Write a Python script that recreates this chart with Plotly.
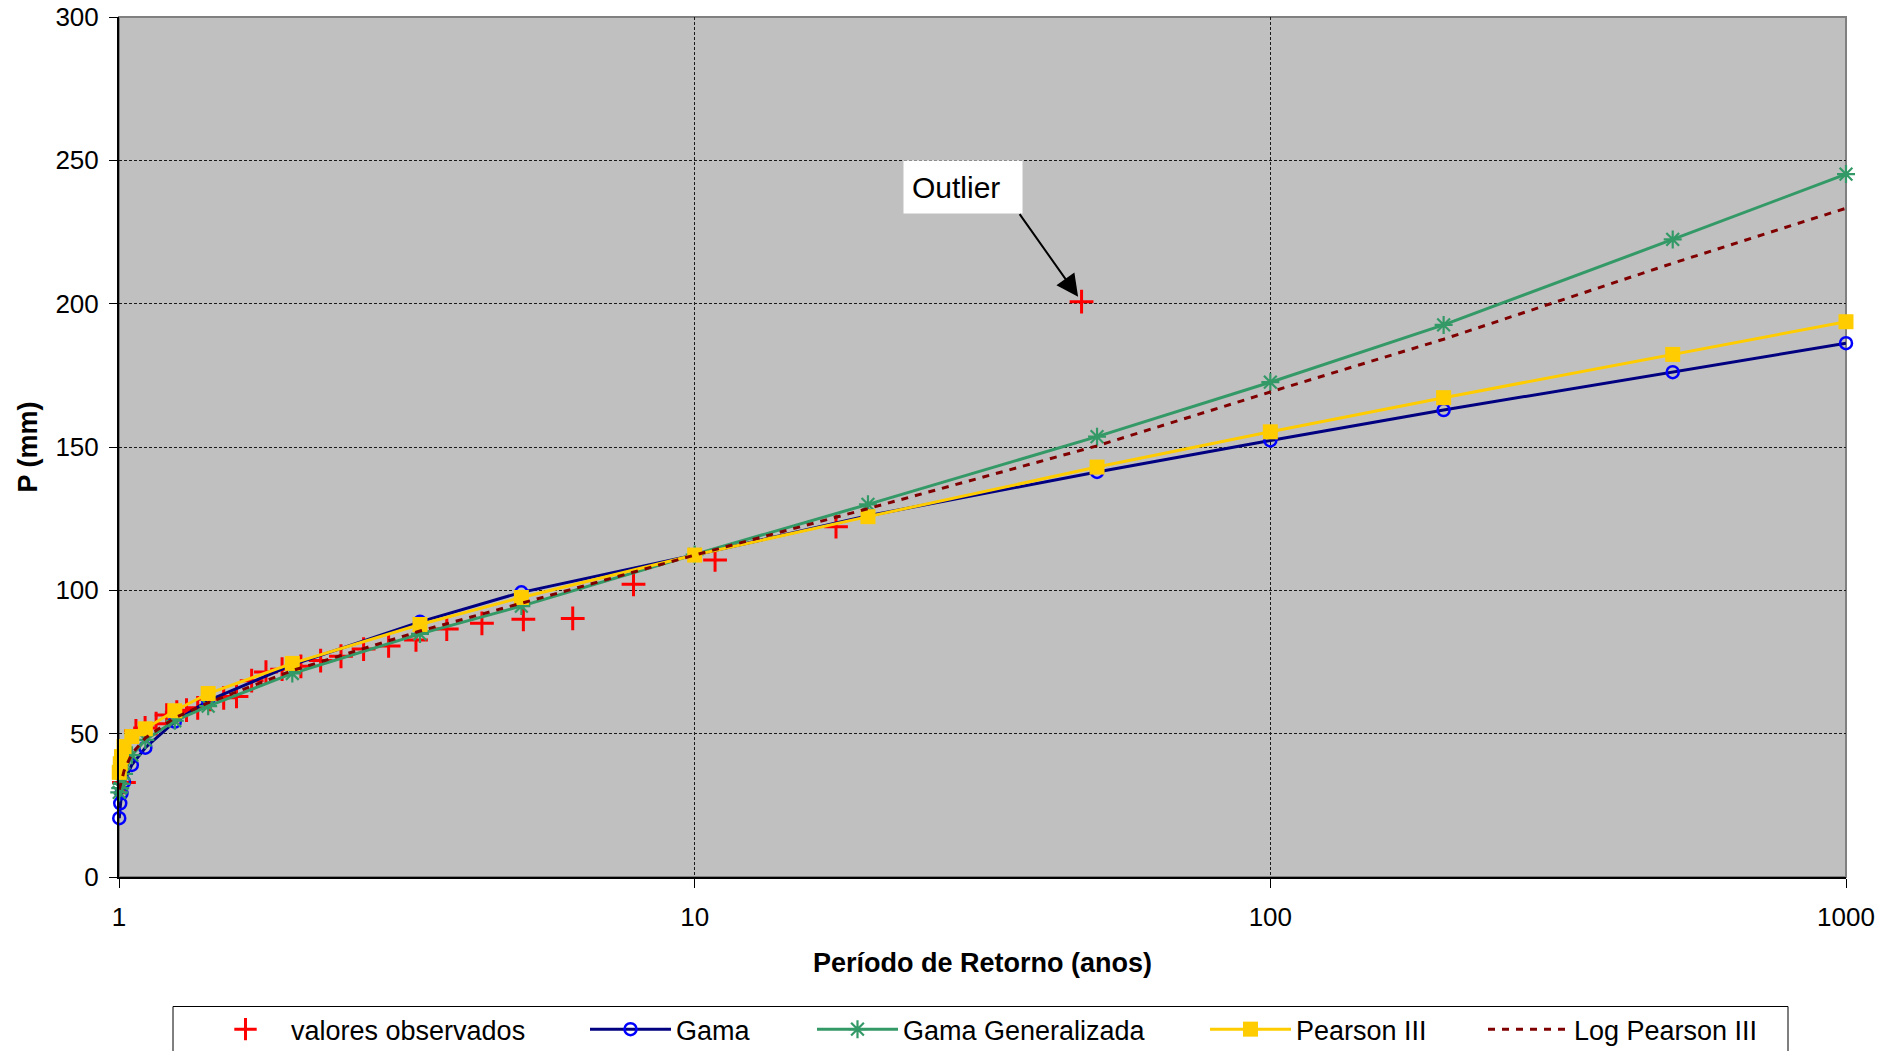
import numpy as np
import plotly.graph_objects as go

# Return periods (years) at which the fitted distributions are evaluated
T_fit = [1.001, 1.005, 1.0101, 1.0204, 1.0526, 1.1111, 1.25, 1.4286, 2, 3.3333,
         5, 10, 20, 50, 100, 200, 500, 1000]

# Fitted precipitation quantiles (mm)
P_gama = [20.5, 25.7, 29.2, 33.2, 39.1, 45.1, 54.2, 61.5, 74.0, 89.0,
          99.3, 112.3, 126.0, 141.3, 152.3, 162.9, 176.1, 186.2]
P_gama_gen = [29.5, 31.0, 32.5, 36.0, 42.5, 47.8, 54.5, 59.6, 71.0, 84.8,
              94.5, 112.5, 130.0, 153.6, 172.6, 192.6, 222.4, 245.2]
P_pearson3 = [36.5, 39.5, 42.0, 45.5, 49.0, 51.7, 58.0, 64.0, 74.5, 88.1,
              97.5, 112.3, 125.7, 143.0, 155.3, 167.2, 182.3, 193.7]
P_logpearson3 = [30.5, 32.0, 34.0, 37.0, 43.0, 48.5, 55.5, 60.8, 72.0, 85.8,
                 95.5, 112.3, 128.5, 150.4, 169.2, 187.6, 214.1, 233.3]

# Observed annual maxima with their empirical return periods
T_obs = [47.0, 17.6, 10.85, 7.83, 6.14, 5.04, 4.27, 3.71, 3.28, 2.94,
         2.66, 2.43, 2.24, 2.07, 1.92, 1.80, 1.70, 1.60, 1.52, 1.44,
         1.37, 1.31, 1.26, 1.21, 1.16, 1.11, 1.07, 1.02]
P_obs = [200.7, 122.2, 110.6, 102.1, 90.2, 89.9, 88.5, 86.5, 82.7, 80.6,
         79.5, 77.0, 75.5, 73.5, 72.5, 71.5, 68.5, 63.0, 62.5, 62.0,
         59.0, 58.2, 57.5, 56.5, 53.5, 52.0, 51.0, 33.0]

x_ticks = [1, 10, 100, 1000]
y_ticks = [0, 50, 100, 150, 200, 250, 300]

FONT = "Liberation Sans, Arial, sans-serif"
W, H = 1897, 1051
ML, MR, MT, MB = 119, 51, 17, 174
PW, PH = W - ML - MR, H - MT - MB


def px_x(X):
    return (X - ML) / PW


def px_y(Y):
    return (H - MB - Y) / PH


fig = go.Figure()

fig.add_trace(go.Scatter(
    x=T_obs, y=P_obs, mode="markers", name="valores observados",
    marker=dict(symbol="cross-thin", size=17, line=dict(color="#FF0000", width=3)),
    cliponaxis=False, legend="legend"))

fig.add_trace(go.Scatter(
    x=T_fit, y=P_gama, mode="lines+markers", name="Gama",
    line=dict(color="#000080", width=3),
    marker=dict(symbol="circle-open", size=12, color="#0000FF", line=dict(color="#0000FF", width=2.5)),
    cliponaxis=False, legend="legend2"))

fig.add_trace(go.Scatter(
    x=T_fit, y=P_gama_gen, mode="lines+markers", name="Gama Generalizada",
    line=dict(color="#339966", width=3),
    marker=dict(symbol="asterisk-open", size=15, color="#339966", line=dict(color="#339966", width=2.2)),
    cliponaxis=False, legend="legend3"))

fig.add_trace(go.Scatter(
    x=T_fit, y=P_pearson3, mode="lines+markers", name="Pearson III",
    line=dict(color="#FFCC00", width=3),
    marker=dict(symbol="square", size=15, color="#FFCC00"),
    cliponaxis=False, legend="legend4"))

fig.add_trace(go.Scatter(
    x=T_fit, y=P_logpearson3, mode="lines", name="Log Pearson III",
    line=dict(color="#800000", width=3, dash="7px,7px"),
    cliponaxis=False, legend="legend5"))

# Legend entries laid out along one row beneath the chart (page-referenced)
leg_common = dict(orientation="h", xanchor="left", yanchor="middle",
                  xref="container", yref="container",
                  bgcolor="rgba(0,0,0,0)", borderwidth=0, itemwidth=81,
                  font=dict(family=FONT, size=27, color="#000000"))
leg_y = 1 - 1029.6 / H
leg_starts = [205, 590, 817, 1210, 1488]
legend_layout = {}
for i, xs in enumerate(leg_starts):
    key = "legend" if i == 0 else f"legend{i + 1}"
    legend_layout[key] = dict(leg_common, x=(xs - 5) / W, y=leg_y)

axis_font = dict(family=FONT, size=26, color="#000000")

fig.update_layout(
    width=W, height=H,
    margin=dict(l=ML, r=MR, t=MT, b=MB, pad=0, autoexpand=False),
    paper_bgcolor="#FFFFFF", plot_bgcolor="#C0C0C0",
    showlegend=True,
    **legend_layout,
    xaxis=dict(type="log", range=[0, 3], tickvals=x_ticks, ticktext=[str(v) for v in x_ticks],
               showgrid=True, gridcolor="#1a1a1a", gridwidth=1, griddash="3px,2px",
               showline=True, linecolor="#000000", linewidth=2,
               ticks="outside", ticklen=9, tickcolor="#000000", tickwidth=1,
               ticklabelstandoff=7, tickfont=axis_font, zeroline=False),
    yaxis=dict(range=[0, 300], tickvals=y_ticks,
               showgrid=True, gridcolor="#1a1a1a", gridwidth=1, griddash="3px,2px",
               showline=True, linecolor="#000000", linewidth=2,
               ticks="outside", ticklen=8, tickcolor="#000000", tickwidth=1,
               ticklabelstandoff=5, tickfont=axis_font, zeroline=False),
    shapes=[
        # plot area frame (top and right edges appear grey)
        dict(type="rect", xref="paper", yref="paper", x0=0, x1=1, y0=0, y1=1,
             line=dict(color="#808080", width=2), fillcolor="rgba(0,0,0,0)", layer="below"),
        # legend frame, running off the bottom of the page
        dict(type="rect", xref="paper", yref="paper",
             x0=px_x(173), x1=px_x(1788), y0=px_y(1080), y1=px_y(1006.5),
             line=dict(color="#000000", width=1), fillcolor="#FFFFFF", layer="below"),
    ],
    annotations=[
        dict(text="<b>Período de Retorno (anos)</b>", xref="paper", yref="paper",
             x=0.5, y=px_y(963), xanchor="center", yanchor="middle", showarrow=False,
             font=dict(family=FONT, size=27, color="#000000")),
        dict(text="<b>P (mm)</b>", xref="paper", yref="paper", textangle=-90,
             x=px_x(27.5), y=0.5, xanchor="center", yanchor="middle", showarrow=False,
             font=dict(family=FONT, size=27, color="#000000")),
        # label box for the outlying observation
        dict(text="Outlier", xref="paper", yref="paper",
             x=px_x(962.5), y=px_y(187), xanchor="center", yanchor="middle",
             width=102, height=36, borderpad=8, align="left", showarrow=False,
             bgcolor="#FFFFFF", font=dict(family=FONT, size=30, color="#000000")),
        # arrow pointing at the outlier
        dict(text="", x=np.log10(T_obs[0]), y=P_obs[0], xref="x", yref="y",
             showarrow=True, arrowhead=2, arrowsize=2.2, arrowwidth=2, arrowcolor="#000000",
             ax=-63, ay=-89, standoff=6),
    ],
)

fig.write_html("out.html")
